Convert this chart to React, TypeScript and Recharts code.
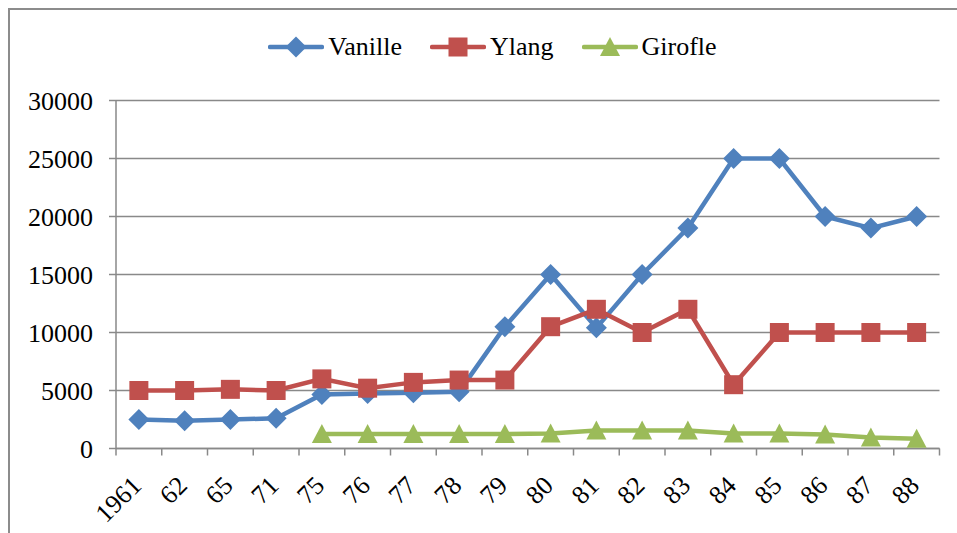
import React from "react"
import { CartesianGrid, Legend, Line, LineChart, XAxis, YAxis } from "recharts"

const categories = ['1961', '62', '65', '71', '75', '76', '77', '78', '79', '80', '81', '82', '83', '84', '85', '86', '87', '88']
const vanille = [2500, 2400, 2500, 2600, 4650, 4750, 4800, 4900, 10500, 15000, 10400, 15000, 19000, 25000, 25000, 20000, 19000, 20000]
const ylang = [5000, 5000, 5100, 5000, 6000, 5200, 5700, 5900, 5900, 10500, 12000, 10000, 12000, 5500, 10000, 10000, 10000, 10000]
const girofle = [null, null, null, null, 1250, 1250, 1250, 1250, 1250, 1300, 1550, 1550, 1550, 1300, 1300, 1200, 950, 850]
const yTicks = [0, 5000, 10000, 15000, 20000, 25000, 30000]

const data = categories.map((year, i) => ({
    year,
    Vanille: vanille[i],
    Ylang: ylang[i],
    Girofle: girofle[i],
}))

const BLUE = '#4F81BD'
const RED = '#C0504D'
const GREEN = '#9BBB59'
const GRID = '#898989'
const FONT = '"Liberation Serif", "Times New Roman", serif'

const W = 957
const H = 533
const PLOT_LEFT = 116
const PLOT_RIGHT = 939.5
const AXIS_Y = 448.5
const BAND = (PLOT_RIGHT - PLOT_LEFT) / categories.length

function marker(kind: string, cx: number, cy: number, color: string, key?: any) {
    if (cx == null || cy == null || isNaN(cx) || isNaN(cy)) return <g key={key} />
    if (kind === 'diamond') {
        return <polygon key={key} points={`${cx},${cy - 10.5} ${cx + 10.5},${cy} ${cx},${cy + 10.5} ${cx - 10.5},${cy}`} fill={color} />
    }
    if (kind === 'square') {
        return <rect key={key} x={cx - 9.5} y={cy - 9.5} width={19} height={19} fill={color} />
    }
    return <polygon key={key} points={`${cx},${cy - 10} ${cx + 10},${cy + 9} ${cx - 10},${cy + 9}`} fill={color} />
}

const series = [
    { key: 'Vanille', color: BLUE, kind: 'diamond' },
    { key: 'Ylang', color: RED, kind: 'square' },
    { key: 'Girofle', color: GREEN, kind: 'triangle' },
]

function XTick(props: any) {
    const { x, index } = props
    const tx = x + 4
    const ty = 487
    return (
        <g>
            <line x1={x - BAND / 2} x2={x - BAND / 2} y1={AXIS_Y} y2={AXIS_Y + 7} stroke={GRID} strokeWidth={1.5} />
            {index === categories.length - 1 &&
                <line x1={x + BAND / 2} x2={x + BAND / 2} y1={AXIS_Y} y2={AXIS_Y + 7} stroke={GRID} strokeWidth={1.5} />}
            <text x={tx} y={ty} textAnchor="end" fontSize={26} style={{ fontFamily: FONT }} fill="#000"
                transform={`rotate(-45 ${tx} ${ty})`}>{props.payload.value}</text>
        </g>
    )
}

function LegendBox() {
    return (
        <div style={{ height: 34, display: 'flex', justifyContent: 'center', alignItems: 'center', paddingLeft: 28, fontFamily: FONT, fontSize: 26 }}>
            {series.map((s, i) => (
                <div key={s.key} style={{ display: 'flex', alignItems: 'center', marginRight: i < series.length - 1 ? 28 : 0 }}>
                    <svg width={56} height={22}>
                        <line x1={2} x2={54} y1={11} y2={11} stroke={s.color} strokeWidth={4.5} strokeLinecap="round" />
                        {marker(s.kind, 28, 11, s.color)}
                    </svg>
                    <span style={{ marginLeft: 4, lineHeight: '34px' }}>{s.key}</span>
                </div>
            ))}
        </div>
    )
}

export default function App() {
    return (
        <div style={{ position: 'fixed', left: 0, top: 0, width: W, height: H, background: '#fff', overflow: 'hidden', fontFamily: FONT }}>
            <div style={{ position: 'absolute', left: 8, top: 8, width: 980, height: 560, border: '2px solid #8c8c8c' }} />
            <div style={{ position: 'absolute', left: 0, top: 0 }}>
                <LineChart width={W} height={H} data={data}
                    margin={{ top: 66.5, right: W - PLOT_RIGHT, left: 0, bottom: 0 }}>
                    <CartesianGrid vertical={false} stroke={GRID} strokeWidth={1.5} />
                    <XAxis dataKey="year" height={H - AXIS_Y} tick={<XTick />} tickLine={false}
                        padding={{ left: BAND / 2, right: BAND / 2 }}
                        axisLine={{ stroke: GRID, strokeWidth: 1.5 }} interval={0} />
                    <YAxis domain={[0, 30000]} ticks={yTicks} width={PLOT_LEFT} tickSize={7} tickMargin={16}
                        axisLine={{ stroke: GRID, strokeWidth: 1.5 }} tickLine={{ stroke: GRID, strokeWidth: 1.5 }}
                        tick={{ fill: '#000', fontSize: 26, style: { fontFamily: FONT } }} />
                    <Legend verticalAlign="top" content={<LegendBox />} wrapperStyle={{ top: 30, left: 0, width: W }} />
                    {series.map(s => (
                        <Line key={s.key} type="linear" dataKey={s.key} stroke={s.color} strokeWidth={4.5}
                            isAnimationActive={false} connectNulls={false}
                            dot={(p: any) => marker(s.kind, p.cx, p.cy, s.color, `${s.key}-${p.index}`)}
                            activeDot={false} />
                    ))}
                </LineChart>
            </div>
        </div>
    )
}
